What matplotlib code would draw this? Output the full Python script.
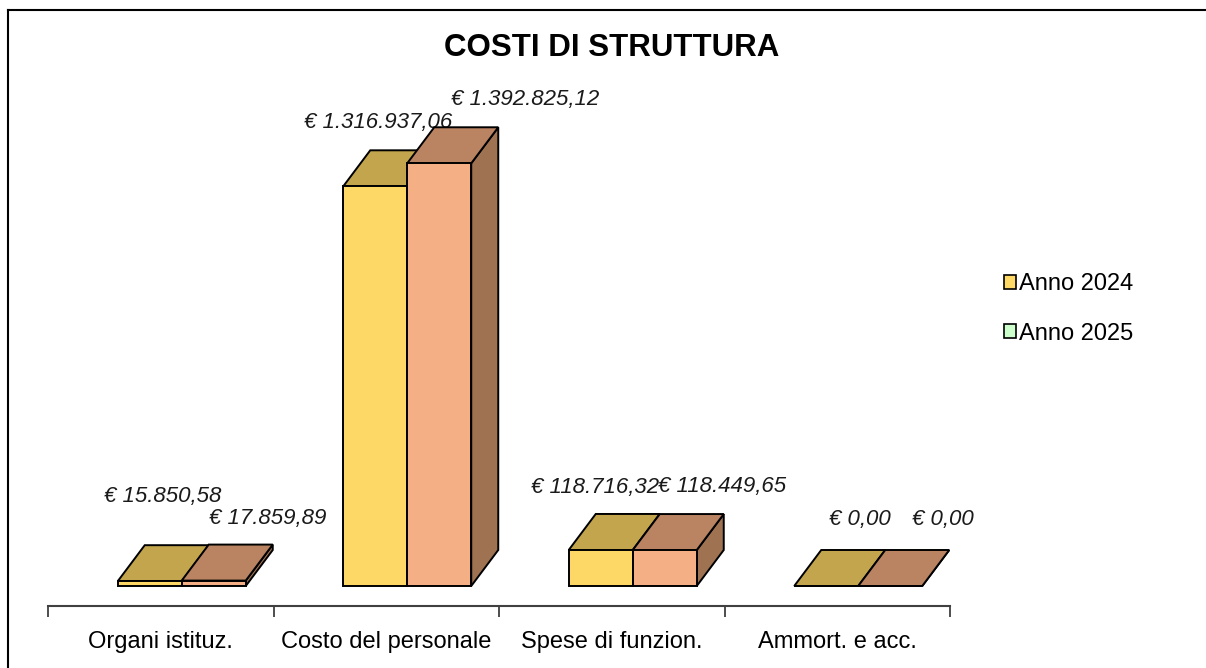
import matplotlib.pyplot as plt
from matplotlib.patches import Polygon, Rectangle
from matplotlib.lines import Line2D

plt.rcParams['font.family'] = ['Liberation Sans', 'DejaVu Sans']

categories = ["Organi istituz.", "Costo del personale", "Spese di funzion.", "Ammort. e acc."]
series_names = ["Anno 2024", "Anno 2025"]
values_2024 = [15850.58, 1316937.06, 118716.32, 0.00]
values_2025 = [17859.89, 1392825.12, 118449.65, 0.00]
labels_2024 = ["€ 15.850,58", "€ 1.316.937,06", "€ 118.716,32", "€ 0,00"]
labels_2025 = ["€ 17.859,89", "€ 1.392.825,12", "€ 118.449,65", "€ 0,00"]

# face colours: front, top, side
faces = [("#FDD866", "#C2A54D", "#A88F3E"),
         ("#F4B084", "#BA8462", "#9F7352")]
legend_colors = ["#FFD966", "#CCFFCC"]

# value label nudges (pixels from the front centre of each bar top)
label_nudge = [[(13, 49), (3, 28), (-6, 26), (34, 31)],
               [(54, 26), (86, 28), (57, 28), (53, 31)]]

W, H = 1206, 668
fig = plt.figure(figsize=(W / 100, H / 100), dpi=100)

# axes in pixel terms: x 48..950, y 606 (bottom) .. 80 (top)
ax_l, ax_r, ax_b, ax_t = 48, 950, 606, 80
ax = fig.add_axes([ax_l / W, (H - ax_b) / H, (ax_r - ax_l) / W, (ax_b - ax_t) / H])

px_per_cat = (ax_r - ax_l) / 4
px_per_val = 3.035e-4
floor_gap = 20  # px between axis line and bar base
ymin = -floor_gap / px_per_val
ymax = ymin + (ax_b - ax_t) / px_per_val
ax.set_xlim(-0.5, 3.5)
ax.set_ylim(ymin, ymax)

dx = 27 / px_per_cat      # depth offset in category units
dy = 36 / px_per_val      # depth offset in value units
bw = 64 / px_per_cat      # bar width
left0 = -43 / px_per_cat  # first bar left edge relative to category centre

lw = 1.4
for j, (vals, labs) in enumerate([(values_2024, labels_2024), (values_2025, labels_2025)]):
    front, top, side = faces[j]
    for i, v in enumerate(vals):
        x0 = i + left0 + j * bw
        x1 = x0 + bw
        # side face
        ax.add_patch(Polygon([(x1, 0), (x1 + dx, dy), (x1 + dx, v + dy), (x1, v)],
                             closed=True, facecolor=side, edgecolor="black", lw=lw, zorder=2 + j))
        # top face
        ax.add_patch(Polygon([(x0, v), (x1, v), (x1 + dx, v + dy), (x0 + dx, v + dy)],
                             closed=True, facecolor=top, edgecolor="black", lw=lw, zorder=2 + j))
        # front face
        ax.add_patch(Rectangle((x0, 0), bw, v, facecolor=front, edgecolor="black", lw=lw, zorder=2 + j))
        nx, ny = label_nudge[j][i]
        ax.annotate(labs[i], (x0 + bw / 2, v + dy), xytext=(nx, ny), textcoords="offset pixels",
                    ha="center", va="center", fontsize=16, style="italic", color="#1a1a1a")

# axis line and ticks
for s in ["left", "right", "top"]:
    ax.spines[s].set_visible(False)
ax.spines["bottom"].set_color("#404040")
ax.spines["bottom"].set_linewidth(1.5)
ax.set_yticks([])
ax.set_xticks(range(len(categories)))
ax.set_xticklabels(categories, fontsize=17)
ax.tick_params(axis="x", which="major", length=0, pad=18)
ax.set_xticks([-0.5, 0.5, 1.5, 2.5, 3.5], minor=True)
ax.tick_params(axis="x", which="minor", length=8, width=1.3, color="#404040")
ax.patch.set_alpha(0)

fig.text(612 / W, 1 - 48 / H, "COSTI DI STRUTTURA", ha="center", va="center",
         fontsize=22.5, fontweight="bold")

# legend
handles = [Rectangle((0, 0), 1, 1, facecolor=c, edgecolor="black", lw=1.2) for c in legend_colors]
fig.legend(handles, series_names, loc="center left", bbox_to_anchor=(983 / W, 1 - 309 / H),
           frameon=False, fontsize=17, handlelength=0.5, handleheight=0.5,
           handletextpad=0.12, labelspacing=1.15)

# outer frame (left and top edges)
fig.add_artist(Line2D([8 / W, 8 / W], [0, 1 - 10 / H], color="black", lw=1.5))
fig.add_artist(Line2D([8 / W, 1], [1 - 10 / H, 1 - 10 / H], color="black", lw=1.5))

fig.savefig("out.png", dpi=100)
